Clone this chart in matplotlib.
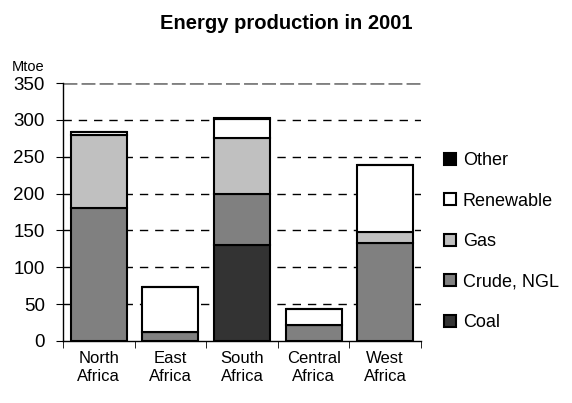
import matplotlib.pyplot as plt
import numpy as np

plt.rcParams['font.family'] = ['Liberation Sans', 'DejaVu Sans']

regions = ["North\nAfrica", "East\nAfrica", "South\nAfrica", "Central\nAfrica", "West\nAfrica"]
coal = [0, 0, 130, 0, 0]
crude = [180, 12, 70, 21, 133]
gas = [100, 0, 75, 0, 15]
renewable = [3, 61, 26, 22, 91]
other = [1, 0, 2, 0, 0]

series = [("Coal", coal, "#333333"), ("Crude, NGL", crude, "#808080"),
          ("Gas", gas, "#c0c0c0"), ("Renewable", renewable, "#ffffff"),
          ("Other", other, "#000000")]

fig = plt.figure(figsize=(5.72, 4.03), dpi=100)
ax = fig.add_axes([0.110, 0.154, 0.626, 0.640])

x = np.arange(len(regions))
for y in range(50, 301, 50):
    ax.axhline(y, color="black", lw=1, ls=(0, (6, 5)), zorder=0)
ax.axhline(350, color="#808080", lw=2, ls=(0, (5, 1.5)), zorder=0)

bottom = np.zeros(len(regions))
handles = []
for name, vals, col in series:
    vals = np.array(vals, dtype=float)
    b = ax.bar(x, vals, 0.78, bottom=bottom, color=col, edgecolor="black",
               linewidth=1.5, label=name, zorder=2)
    handles.append(b)
    bottom += vals

ax.set_xlim(-0.5, 4.5)
ax.set_ylim(0, 350)
ax.set_yticks(range(0, 351, 50))
ax.set_xticks(x)
ax.set_xticklabels(regions, fontsize=12, linespacing=1.25)
ax.set_xticks(np.arange(-0.5, 5, 1), minor=True)
ax.tick_params(axis="x", which="major", length=0, pad=7)
ax.tick_params(axis="x", which="minor", length=5, direction="out")
ax.tick_params(axis="y", labelsize=13.5, length=5, direction="out", pad=8)
for s in ["top", "right"]:
    ax.spines[s].set_visible(False)
ax.spines["left"].set_linewidth(1)
ax.spines["bottom"].set_linewidth(1)

fig.text(0.021, 0.825, "Mtoe", fontsize=10.5)
fig.suptitle("Energy production in 2001", fontsize=14.5, fontweight="bold", y=0.965)

ax.legend(handles[::-1], [s[0] for s in series][::-1], loc="center left",
          bbox_to_anchor=(1.02, 0.385), frameon=False, fontsize=13,
          handlelength=0.62, handleheight=0.62, handletextpad=0.4, labelspacing=1.3)

fig.savefig("out.png", dpi=100)
